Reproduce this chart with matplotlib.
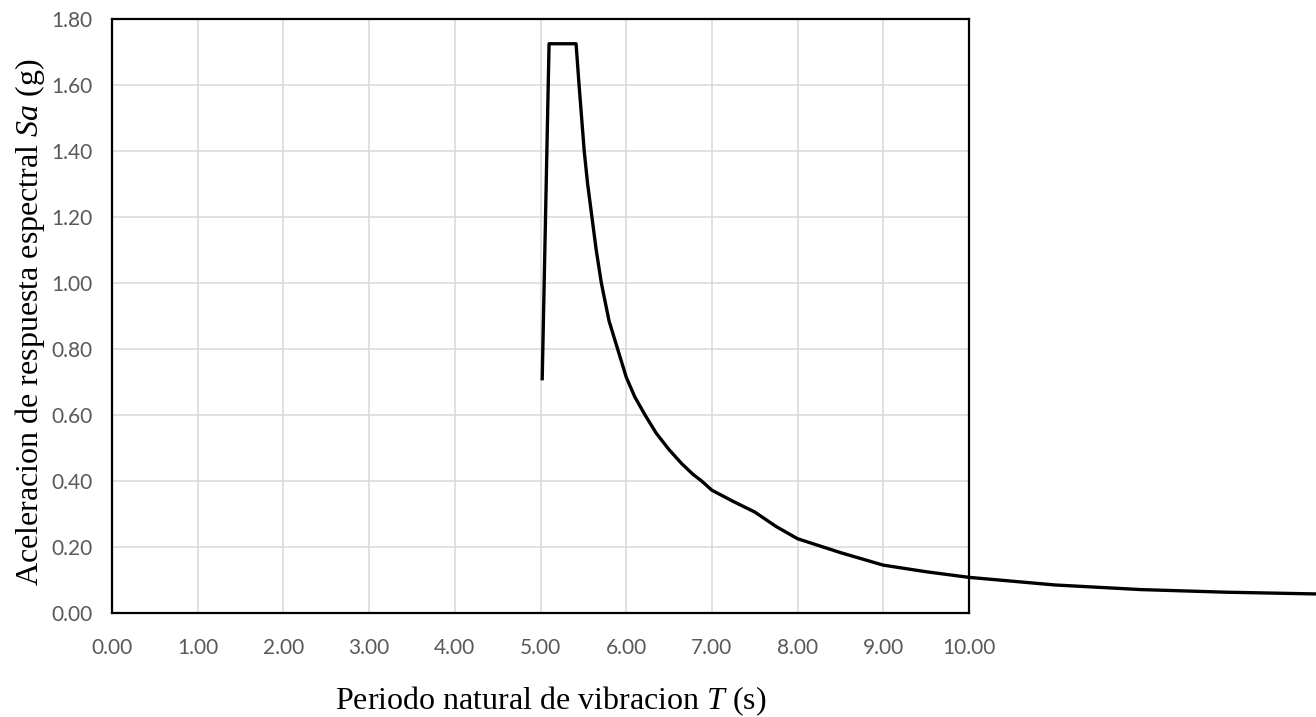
import matplotlib
matplotlib.use("Agg")
import matplotlib.pyplot as plt

plt.rcParams["mathtext.fontset"] = "custom"
plt.rcParams["mathtext.it"] = "Liberation Serif:italic"
plt.rcParams["mathtext.rm"] = "Liberation Serif"

# periodo T (s) y aceleracion espectral Sa (g)
periodo = [5.02, 5.10, 5.415, 5.45, 5.48, 5.51, 5.55, 5.60, 5.65, 5.71, 5.80,
           5.90, 6.00, 6.10, 6.22, 6.35, 6.50, 6.65, 6.78, 6.88, 7.00, 7.25,
           7.50, 7.75, 8.00, 8.50, 9.00, 9.50, 10.00, 11.00, 12.00, 13.00,
           14.00, 15.00]
sa = [0.71, 1.725, 1.725, 1.60, 1.50, 1.40, 1.30, 1.20, 1.10, 1.00, 0.885,
      0.80, 0.715, 0.655, 0.60, 0.545, 0.495, 0.452, 0.42, 0.40, 0.372, 0.338,
      0.306, 0.262, 0.225, 0.183, 0.145, 0.125, 0.108, 0.085, 0.071, 0.063,
      0.058, 0.054]

xticks = [0, 1, 2, 3, 4, 5, 6, 7, 8, 9, 10]
yticks = [0, 0.2, 0.4, 0.6, 0.8, 1.0, 1.2, 1.4, 1.6, 1.8]

fig = plt.figure(figsize=(13.16, 7.17), dpi=100)
ax = fig.add_axes([112 / 1316, 1 - 613 / 717, 857 / 1316, 594 / 717])

ax.plot(periodo, sa, color="black", lw=2.4, clip_on=False,
        solid_joinstyle="round", zorder=5)

ax.set_xlim(0, 10)
ax.set_ylim(0, 1.8)
ax.set_xticks(xticks)
ax.set_yticks(yticks)
ax.set_xticklabels(["%.2f" % v for v in xticks])
ax.set_yticklabels(["%.2f" % v for v in yticks])
ax.grid(True, color="#d9d9d9", lw=1.1)
ax.set_axisbelow(True)
ax.tick_params(length=0, labelsize=15, labelcolor="#595959")
ax.tick_params(axis="x", pad=18)
ax.tick_params(axis="y", pad=14)
for lab in ax.get_xticklabels() + ax.get_yticklabels():
    lab.set_family("Lato")
for s in ax.spines.values():
    s.set_color("black")
    s.set_linewidth(1.6)
    s.set_zorder(6)

fig.text(551 / 1316, 1 - 709 / 717, "Periodo natural de vibracion $T$ (s)",
         ha="center", va="baseline", fontsize=23, family="Liberation Serif")
fig.text(38 / 1316, 1 - 322 / 717, "Aceleracion de respuesta espectral $Sa$ (g)",
         ha="center", va="baseline", rotation=90, rotation_mode="anchor",
         fontsize=23, family="Liberation Serif")

fig.savefig("out.png", dpi=100)
